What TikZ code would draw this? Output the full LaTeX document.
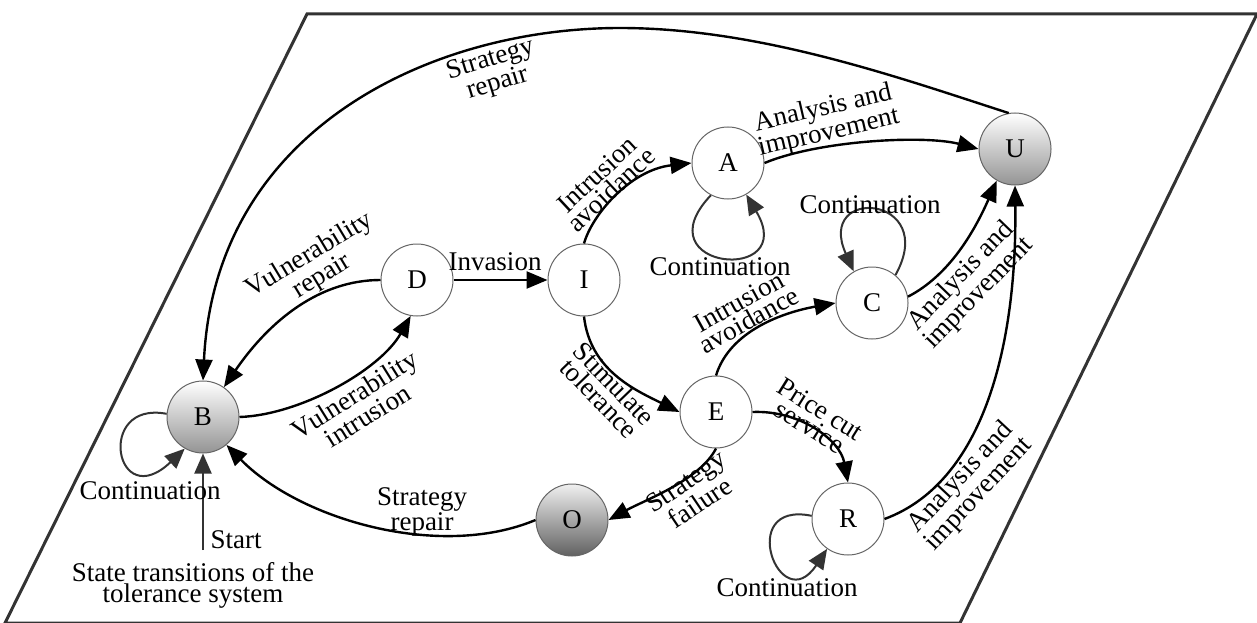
\documentclass[tikz,border=0pt]{standalone}
\usepackage{fontspec}
\setmainfont{Liberation Serif}
\usetikzlibrary{arrows.meta}
\newcommand\labfont{\fontsize{27}{21}\selectfont}
\begin{document}
\begin{tikzpicture}[x=1pt,y=-1pt,
  st/.style={circle, draw=black!60, line width=1pt, minimum size=72pt, inner sep=0pt, fill=white, font=\labfont},
  shst/.style={st, top color=white, bottom color=black!42},
  dkst/.style={st, top color=black!6, bottom color=black!62},
  edge/.style={line width=2.4pt, -{Triangle[length=21pt,width=17pt]}},
  loopedge/.style={line width=2pt, draw=black!80, -{Triangle[length=20pt,width=17pt,fill=black!80]}},
  lab/.style={align=center, inner sep=0pt, font=\labfont},
  frame/.style={line width=3pt, draw=black!80, line join=miter}]
\useasboundingbox (0,0) rectangle (1257,623);
\draw[frame] (307,14) -- (1257,14) -- (960,623) -- (5,623) -- cycle;

\node[shst] (B) at (203,417) {B};
\node[st] (D) at (417,280) {D};
\node[st] (I) at (584,280) {I};
\node[st] (A) at (728,163) {A};
\node[shst] (U) at (1015,149) {U};
\node[st] (C) at (872,303) {C};
\node[st] (E) at (716,412) {E};
\node[dkst] (O) at (572,520) {O};
\node[st] (R) at (848,519) {R};
\coordinate (S) at (203,550);

% edges
\draw[edge] (U.100) .. controls (900,78) and (760,28) .. (620,28) .. controls (430,28) and (215,130) .. (B.north);
\draw[edge] (D.west) .. controls (320,280) and (270,320) .. (B.55);
\draw[edge] (B.east) .. controls (300,415) and (380,370) .. (D.260);
\draw[edge] (D.east) -- (I.west);
\draw[edge] (I.north) .. controls (592,215) and (630,170) .. (A.west);
\draw[edge] (A.east) .. controls (820,140) and (925,135) .. (U.west);
\draw[edge] (I.south) .. controls (590,370) and (635,390) .. (E.west);
\draw[edge] (E.north) .. controls (730,330) and (785,312) .. (C.west);
\draw[edge] (C.10) .. controls (950,275) and (975,230) .. (U.240);
\draw[edge] (R.east) .. controls (990,480) and (1017,330) .. (U.south);
\draw[edge] (E.east) .. controls (800,410) and (840,440) .. (R.north);
\draw[edge] (E.south) .. controls (700,480) and (645,500) .. (O.east);
\draw[edge] (O.west) .. controls (440,560) and (300,520) .. (B.-50);

% loops
\draw[loopedge] (A.242) .. controls (640,270) and (800,285) .. (A.-60);
\draw[loopedge] (C.50) .. controls (940,195) and (815,185) .. (C.120);
\draw[loopedge] (R.175) .. controls (735,500) and (780,620) .. (R.235);
\draw[loopedge] (B.175) .. controls (95,400) and (115,515) .. (B.240);
\draw[loopedge] (S) -- (B.south);

% labels
\node[lab, rotate=17] (l1) at (494,72) {Strategy\\repair};
\node[lab, rotate=31] (l2) at (316,266) {Vulnerability\\repair};
\node[lab, rotate=32] (l3) at (361,405) {Vulnerability\\intrusion};
\node[lab] (l4) at (495,262) {Invasion};
\node[lab, rotate=43] (l5) at (604,182) {Intrusion\\avoidance};
\node[lab, rotate=13] (l6) at (826,121) {Analysis and\\improvement};
\node[lab] (l7) at (720,267) {Continuation};
\node[lab, rotate=-46] (l8) at (607,391) {Stimulate\\tolerance};
\node[lab, rotate=29] (l9) at (744,311) {Intrusion\\avoidance};
\node[lab] (l10) at (870,205) {Continuation};
\node[lab, rotate=46] (l11) at (970,285) {Analysis and\\improvement};
\node[lab, rotate=47] (l12) at (970,486) {Analysis and\\improvement};
\node[lab, rotate=-32] (l13) at (815,418) {Price cut\\service};
\node[lab, rotate=34] (l14) at (693,492) {Strategy\\failure};
\node[lab] (l15) at (422,512) {Strategy\\repair};
\node[lab] (l16) at (787,588) {Continuation};
\node[lab] (l17) at (150,491) {Continuation};
\node[lab] (l18) at (236,540) {Start};
\node[lab] (l19) at (193,585) {State transitions of the\\tolerance system};
\end{tikzpicture}
\end{document}
